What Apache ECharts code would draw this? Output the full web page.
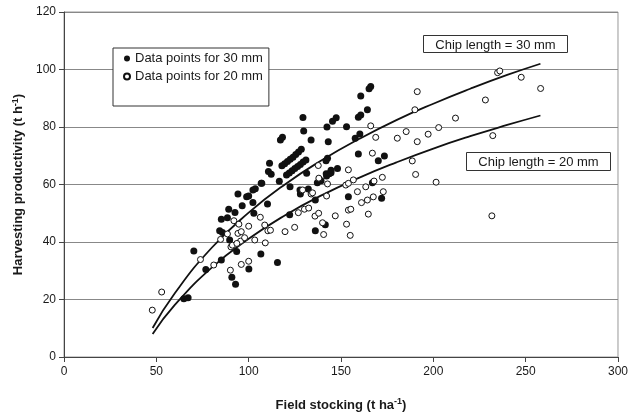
<!DOCTYPE html>
<html>
<head>
<meta charset="utf-8">
<script src="https://cdn.jsdelivr.net/npm/echarts@6/dist/echarts.min.js"></script>
<style>
  html, body { margin: 0; padding: 0; background: #fff; }
  #chart { width: 631px; height: 417px; }
</style>
</head>
<body>
<div id="chart"></div>
<script>
// filled dots: chip length 30 mm  [field stocking, productivity]
var points30 = [
  [64.9, 20.3], [67.2, 20.6], [70.3, 36.9], [76.8, 30.4], [85.2, 33.7], [85.2, 47.9],
  [88.5, 48.4], [84.3, 43.9], [85.8, 43.3], [89.2, 51.4], [92.6, 50.3], [94.2, 56.7],
  [96.5, 52.6], [89.7, 40.7], [93.5, 36.7], [90.9, 27.7], [92.9, 25.3], [100.1, 30.6],
  [98.9, 55.7], [100, 56], [102.3, 53.7], [102.8, 50], [102.3, 58.1], [103.6, 58.5],
  [106.8, 60.4], [110.2, 53.2], [106.6, 35.8], [115.6, 32.9], [122.4, 59.2], [122.2, 49.5],
  [128, 56.7], [127.8, 58.1], [132.3, 58.4], [136.1, 43.9], [136.1, 54.6], [141.5, 46],
  [137.2, 60.6], [139.2, 61.3], [116.6, 61.1],
  [129.4, 83.3], [129.8, 78.6], [133.8, 75.5], [142.4, 80], [145.4, 82], [147.4, 83.2],
  [143.1, 74.9], [117.2, 75.5], [118.3, 76.4],
  [118, 66.5], [119.5, 67.2], [121, 68], [122.5, 68.8], [124, 69.5], [125.5, 70.4],
  [127, 71.3], [128.5, 72.3],
  [120.5, 63.3], [122, 64], [123.5, 64.8], [125, 65.6], [126.5, 66.3], [128, 67],
  [129.5, 67.8], [131, 68.5],
  [110.7, 64.5], [112.2, 63.6], [111.3, 67.4], [107.1, 60.4], [131.4, 63.9], [142, 63.7],
  [166.1, 94.1], [165.2, 93.3], [160.7, 90.8], [164.3, 86], [159.4, 83.4], [160.7, 84.2],
  [153, 80.1], [157.7, 76.1], [160.2, 77.6], [142.7, 69.1], [141.9, 68.3], [159.4, 70.6],
  [170.2, 68.3], [173.5, 69.9], [148.1, 65.6], [142.2, 63], [143.6, 63.7], [144.6, 64.1],
  [154, 55.7], [172, 55.2], [167, 60.6], [144.6, 65]
];

// open circles: chip length 20 mm
var points20 = [
  [47.8, 16.3], [52.9, 22.6], [73.9, 33.9], [81.1, 32], [90.1, 30.2], [84.8, 40.9],
  [88.5, 42.8], [92, 47.4], [94.7, 46.2], [90.4, 38.3], [91.2, 38.9], [94.2, 43],
  [96, 43.6], [95.6, 40.3], [97.8, 41.5], [93.6, 39.5], [96, 32.2], [100, 33.3],
  [100, 45.5], [103.3, 40.7], [106.3, 48.6], [109, 39.7], [108.7, 45.9], [110.4, 43.9],
  [111.8, 44.1], [119.7, 43.6], [124.9, 45.1], [126.9, 50.2], [130.2, 51.4], [132.5, 51.8],
  [129.2, 58.1], [133.8, 56.7], [134.6, 57.1], [135.9, 49], [137.9, 50], [140, 46.7],
  [140.6, 42.6], [142.2, 56], [142.7, 60.2], [146.9, 49.1], [137.7, 66.6], [138, 62.2],
  [166.1, 80.4], [168.8, 76.4], [185.3, 78.4], [180.5, 76.1], [167, 70.9], [154, 65.1],
  [156.7, 61.6], [152.6, 59.8], [154, 60.4], [167.9, 61.2], [172.4, 62.5], [163.4, 59.2],
  [158.9, 57.5], [172.9, 57.5], [167.5, 55.7], [164.3, 54.6], [161.1, 53.7], [154, 51.1],
  [155.3, 51.4], [164.8, 49.7], [153, 46.2], [155, 42.3],
  [191.3, 92.3], [190, 86], [228.2, 89.4], [212, 83.1], [202.9, 79.8], [197.2, 77.5],
  [191.3, 74.9], [188.6, 68.2], [190.4, 63.5], [201.5, 60.8], [234.8, 98.9], [236, 99.5],
  [247.6, 97.3], [258.1, 93.4], [232.2, 77], [231.7, 49.1]
];

// fitted curves
var curve30 = [
  [48, 10.1], [60, 22.2], [80, 38.0], [100, 50.2], [120, 60.2], [140, 68.6],
  [160, 75.9], [180, 82.4], [200, 88.1], [220, 93.3], [240, 98.1], [258, 102.0]
];
var curve20 = [
  [48, 8.0], [60, 18.1], [80, 31.1], [100, 41.1], [120, 49.4], [140, 56.4],
  [160, 62.4], [180, 67.7], [200, 72.5], [220, 76.8], [240, 80.7], [258, 84.0]
];

var xTicks = { min: 0, max: 300, interval: 50 };
var yTicks = { min: 0, max: 120, interval: 20 };

var font = 'Liberation Sans, Arial, sans-serif';
var ink = '#1a1a1a';

var chart = echarts.init(document.getElementById('chart'));

function boxLabel(text, left, top, w, h) {
  return {
    type: 'group', left: left, top: top,
    children: [
      { type: 'rect', shape: { x: 0, y: 0, width: w, height: h },
        style: { fill: '#fff', stroke: '#333', lineWidth: 1 } },
      { type: 'text', x: w / 2, y: h / 2 + 1,
        style: { text: text, font: '13px ' + font, fill: ink, align: 'center', verticalAlign: 'middle' } }
    ]
  };
}

chart.setOption({
  animation: false,
  backgroundColor: '#fff',
  textStyle: { fontFamily: font },
  grid: {
    left: 64, right: 11, top: 12, bottom: 60,
    containLabel: false,
    show: true, borderColor: '#999', borderWidth: 1
  },
  legend: {
    orient: 'vertical',
    left: 113, top: 48,
    data: ['Data points for 30 mm', 'Data points for 20 mm'],
    backgroundColor: '#fff',
    borderColor: '#333', borderWidth: 1,
    padding: [3, 6, 22, 10],
    itemWidth: 6, itemHeight: 6, itemGap: 3,
    textStyle: { fontSize: 13, color: ink, lineHeight: 15, fontFamily: font }
  },
  xAxis: {
    type: 'value',
    min: xTicks.min, max: xTicks.max, interval: xTicks.interval,
    name: '{a|Field stocking (t ha}{s|-1}{a|)}',
    nameLocation: 'middle', nameGap: 40,
    nameTextStyle: {
      rich: {
        a: { fontSize: 13, fontWeight: 'bold', color: ink, fontFamily: font },
        s: { fontSize: 9, fontWeight: 'bold', color: ink, fontFamily: font, verticalAlign: 'top', padding: [0, 0, 7, 0] }
      }
    },
    axisLine: { show: true, lineStyle: { color: '#444', width: 1 } },
    axisTick: { show: true, inside: false, length: 5, lineStyle: { color: '#444' } },
    axisLabel: { fontSize: 12, color: ink, margin: 9 },
    splitLine: { show: false }
  },
  yAxis: {
    type: 'value',
    min: yTicks.min, max: yTicks.max, interval: yTicks.interval,
    name: '{a|Harvesting productivity (t h}{s|-1}{a|)}',
    nameLocation: 'middle', nameGap: 37, nameRotate: 90,
    nameTextStyle: {
      rich: {
        a: { fontSize: 13, fontWeight: 'bold', color: ink, fontFamily: font },
        s: { fontSize: 9, fontWeight: 'bold', color: ink, fontFamily: font, verticalAlign: 'top', padding: [0, 0, 7, 0] }
      }
    },
    axisLine: { show: true, lineStyle: { color: '#444', width: 1 } },
    axisTick: { show: true, inside: false, length: 5, lineStyle: { color: '#444' } },
    axisLabel: { fontSize: 12, color: ink, margin: 8 },
    splitLine: { show: true, lineStyle: { color: '#888', width: 1 } }
  },
  series: [
    {
      name: 'Chip length = 30 mm', type: 'line', data: curve30,
      smooth: true, symbol: 'none', silent: true,
      lineStyle: { color: '#111', width: 1.8 }, z: 3
    },
    {
      name: 'Chip length = 20 mm', type: 'line', data: curve20,
      smooth: true, symbol: 'none', silent: true,
      lineStyle: { color: '#111', width: 1.8 }, z: 3
    },
    {
      name: 'Data points for 30 mm', type: 'scatter', data: points30,
      symbol: 'circle', symbolSize: 7,
      itemStyle: { color: '#111', opacity: 1 }, z: 4
    },
    {
      name: 'Data points for 20 mm', type: 'scatter', data: points20,
      symbol: 'circle', symbolSize: 6,
      itemStyle: { color: '#fff', borderColor: '#111', borderWidth: 1, opacity: 1 }, z: 4
    }
  ],
  graphic: [
    boxLabel('Chip length = 30 mm', 423, 35, 144, 17),
    boxLabel('Chip length = 20 mm', 466, 152, 144, 18)
  ]
});
</script>
</body>
</html>
